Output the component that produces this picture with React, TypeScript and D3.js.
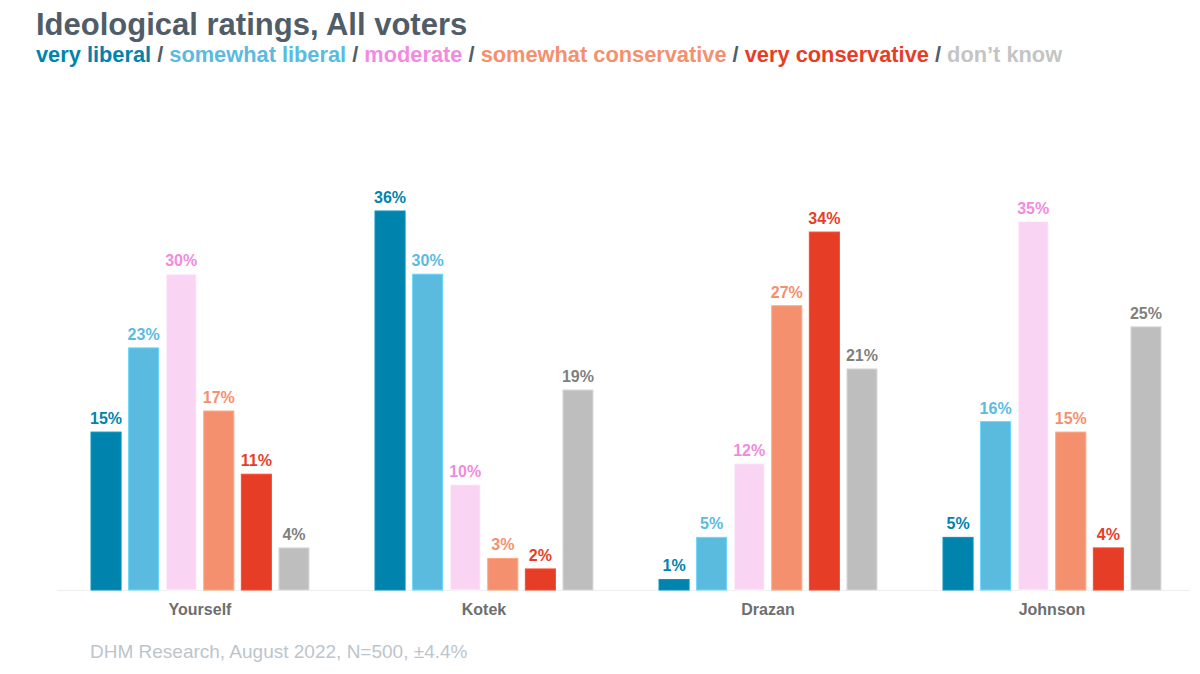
import React from 'react';
import * as d3 from 'd3';

const categories = ['Yourself', 'Kotek', 'Drazan', 'Johnson'];
const seriesNames = ['very liberal', 'somewhat liberal', 'moderate', 'somewhat conservative', 'very conservative', 'don\u2019t know'];
const veryLiberal = [15, 36, 1, 5];
const somewhatLiberal = [23, 30, 5, 16];
const moderate = [30, 10, 12, 35];
const somewhatConservative = [17, 3, 27, 15];
const veryConservative = [11, 2, 34, 4];
const dontKnow = [4, 19, 21, 25];

const barColors = ['#0083ac', '#5bbbdf', '#f9d5f3', '#f5906e', '#e63e26', '#bebebe'];
const labelColors = ['#0083ac', '#5bbbdf', '#f28ae0', '#f5906e', '#e63e26', '#7f7f7f'];
const legendColors = ['#0083ac', '#5bbbdf', '#f28ae0', '#f5906e', '#e63e26', '#c4c4c4'];

const W = 1200;
const H = 674;
const font = '"Liberation Sans", Arial, sans-serif';

export default function App() {
  const values = [veryLiberal, somewhatLiberal, moderate, somewhatConservative, veryConservative, dontKnow];

  const x0 = d3.scaleBand<string>()
    .domain(categories)
    .range([58, 1194])
    .paddingInner(0.206)
    .paddingOuter(0.103);

  const x1 = d3.scaleBand<string>()
    .domain(seriesNames)
    .range([0, x0.bandwidth()])
    .paddingInner(0.2)
    .paddingOuter(0.1);

  const y = d3.scaleLinear().domain([0, 36]).range([590, 211]);

  return (
    <svg width={W} height={H} style={{ position: 'absolute', left: 0, top: 0, background: '#fff' }} fontFamily={font}>
      <text x={36} y={35} fontSize={31} fontWeight="bold" fill="#505d68">Ideological ratings, All voters</text>
      <text x={36} y={62} fontSize={21.8} fontWeight="bold">
        {seriesNames.map((s, i) => (
          <React.Fragment key={s}>
            <tspan fill={legendColors[i]}>{s}</tspan>
            {i < seriesNames.length - 1 && <tspan fill="#505d68">{' / '}</tspan>}
          </React.Fragment>
        ))}
      </text>

      <line x1={57} x2={1190} y1={y(0) + 0.5} y2={y(0) + 0.5} stroke="#eeeeee" strokeWidth={1} />

      {categories.map((c, ci) => (
        <g key={c} transform={`translate(${x0(c)},0)`}>
          {seriesNames.map((s, si) => {
            const v = values[si][ci];
            const bx = x1(s) as number;
            return (
              <g key={s}>
                <rect
                  x={bx}
                  y={y(v)}
                  width={x1.bandwidth()}
                  height={y(0) - y(v)}
                  fill={barColors[si]}
                  stroke={d3.color(barColors[si])!.brighter(0.4).formatHex()}
                  strokeWidth={1}
                />
                <text
                  x={bx + x1.bandwidth() / 2}
                  y={y(v) - 8}
                  textAnchor="middle"
                  fontSize={16}
                  fontWeight="bold"
                  fill={labelColors[si]}
                >
                  {v}%
                </text>
              </g>
            );
          })}
          <text x={x0.bandwidth() / 2} y={615} textAnchor="middle" fontSize={16} fontWeight="bold" fill="#6e6e6e">{c}</text>
        </g>
      ))}

      <text x={90} y={658} fontSize={19} fill="#bcc5cc">DHM Research, August 2022, N=500, ±4.4%</text>
    </svg>
  );
}
